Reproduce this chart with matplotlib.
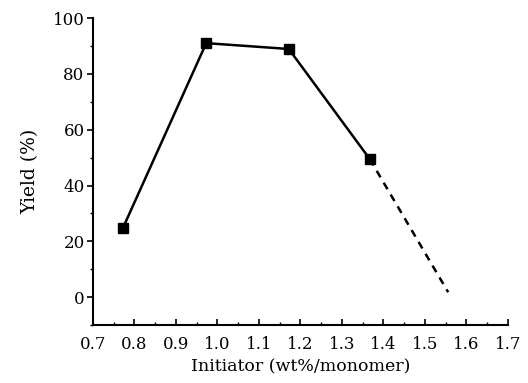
import matplotlib.pyplot as plt
from matplotlib.ticker import MultipleLocator

# measured points (solid part) and extrapolated dashed part
initiator = [0.772, 0.973, 1.172, 1.367]
yield_pct = [24.7, 91.0, 88.9, 49.5]
extrap_x = [1.367, 1.556]
extrap_y = [49.5, 1.8]

plt.rcParams['font.family'] = ['DejaVu Serif']

fig = plt.figure(figsize=(5.28, 3.83), dpi=100)
ax = fig.add_axes([0.176, 0.151, 0.786, 0.802])

ax.plot(initiator, yield_pct, '-', color='black', lw=1.8)
ax.plot(extrap_x, extrap_y, '--', color='black', lw=1.8, dashes=(3, 2.5))
ax.plot(initiator, yield_pct, 's', color='black', ms=7)

ax.set_xlim(0.7, 1.7)
ax.set_ylim(-10, 100)
ax.spines['top'].set_visible(False)
ax.spines['right'].set_visible(False)
ax.spines['left'].set_linewidth(1.5)
ax.spines['bottom'].set_linewidth(1.5)

ax.xaxis.set_minor_locator(MultipleLocator(0.05))
ax.yaxis.set_minor_locator(MultipleLocator(10))
ax.set_xticks([0.7, 0.8, 0.9, 1.0, 1.1, 1.2, 1.3, 1.4, 1.5, 1.6, 1.7])
ax.set_xticklabels(['0.7', '0.8', '0.9', '1.0', '1.1', '1.2', '1.3', '1.4', '1.5', '1.6', '1.7'])
ax.set_yticks([0, 20, 40, 60, 80, 100])

ax.tick_params(axis='x', which='major', direction='in', length=4, width=1.2, labelsize=12, pad=8)
ax.tick_params(axis='x', which='minor', direction='in', length=2.5, width=1)
ax.tick_params(axis='y', which='major', direction='out', length=4, width=1.2, labelsize=12, pad=2)
ax.tick_params(axis='y', which='minor', direction='out', length=2.5, width=1)

ax.set_xlabel('Initiator (wt%/monomer)', fontsize=12.5, labelpad=4)
ax.set_ylabel('Yield (%)', fontsize=13.5, labelpad=10)

fig.savefig('out.png', dpi=100)
